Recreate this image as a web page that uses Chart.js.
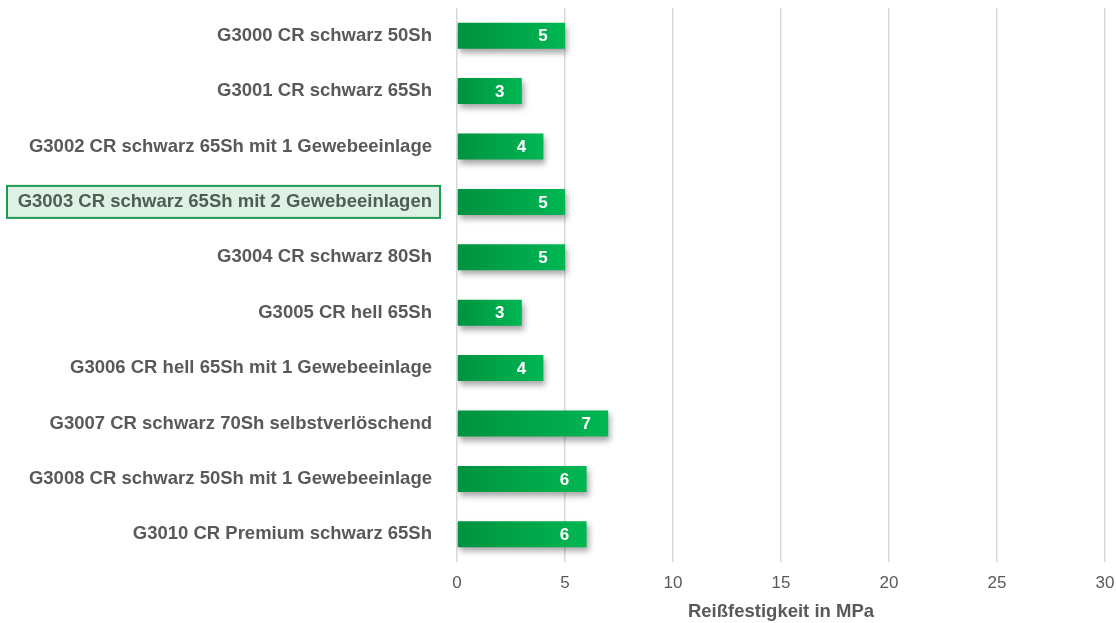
<!DOCTYPE html>
<html>
<head>
<meta charset="utf-8">
<script src="https://cdn.jsdelivr.net/npm/chart.js@4.4.1/dist/chart.umd.min.js"></script>
<style>
  html, body { margin: 0; padding: 0; background: #fff; }
  #wrap { width: 1116px; height: 623px; }
</style>
</head>
<body>
<div id="wrap"><canvas id="tearChart"></canvas></div>
<script>
// Daten
const categories = [
    'G3000 CR schwarz 50Sh',
    'G3001 CR schwarz 65Sh',
    'G3002 CR schwarz 65Sh mit 1 Gewebeeinlage',
    'G3003 CR schwarz 65Sh mit 2 Gewebeeinlagen',
    'G3004 CR schwarz 80Sh',
    'G3005 CR hell 65Sh',
    'G3006 CR hell 65Sh mit 1 Gewebeeinlage',
    'G3007 CR schwarz 70Sh selbstverlöschend',
    'G3008 CR schwarz 50Sh mit 1 Gewebeeinlage',
    'G3010 CR Premium schwarz 65Sh'
];
const tearStrength = [5, 3, 4, 5, 5, 3, 4, 7, 6, 6];
const xTicks = [0, 5, 10, 15, 20, 25, 30];
const axisTitle = 'Reißfestigkeit in MPa';
const highlightIndex = 3;

const FONT = "'Liberation Sans', Arial, sans-serif";
const GRAY = '#595959';

// Schatten unter den Balken
const shadowPlugin = {
    id: 'barShadow',
    beforeDatasetDraw(chart) {
        const c = chart.ctx;
        c.save();
        c.shadowColor = 'rgba(0,0,0,0.35)';
        c.shadowBlur = 6;
        c.shadowOffsetX = 2;
        c.shadowOffsetY = 4;
    },
    afterDatasetDraw(chart) {
        chart.ctx.restore();
    }
};

// Werte in den Balken
const valueLabels = {
    id: 'valueLabels',
    afterDatasetsDraw(chart) {
        const c = chart.ctx;
        const meta = chart.getDatasetMeta(0);
        c.save();
        c.fillStyle = '#ffffff';
        c.font = 'bold 17px ' + FONT;
        c.textAlign = 'center';
        c.textBaseline = 'middle';
        meta.data.forEach((bar, i) => {
            c.fillText(String(tearStrength[i]), bar.x - 22, bar.y + 1);
        });
        c.restore();
    }
};

// Markierte Kategorie
const highlightBox = {
    id: 'highlightBox',
    beforeDraw(chart) {
        const y = chart.scales.y.getPixelForValue(highlightIndex);
        const c = chart.ctx;
        c.save();
        c.fillStyle = '#ddf2e5';
        c.fillRect(7, y - 16, 433, 32);
        c.strokeStyle = '#1f9a50';
        c.lineWidth = 2;
        c.strokeRect(7, y - 16, 433, 32);
        c.restore();
    }
};

const ctx = document.getElementById('tearChart').getContext('2d');
const tearChart = new Chart(ctx, {
    type: 'bar',
    data: {
        labels: categories,
        datasets: [{
            data: tearStrength,
            backgroundColor(context) {
                const chart = context.chart;
                const x = chart.scales.x;
                if (!x || !chart.chartArea) return '#00a84a';
                const x0 = x.getPixelForValue(0);
                const x1 = x.getPixelForValue(context.raw || 1);
                const g = chart.ctx.createLinearGradient(x0, 0, x1, 0);
                g.addColorStop(0, '#00923f');
                g.addColorStop(1, '#00b753');
                return g;
            },
            borderWidth: 0,
            barPercentage: 0.47,
            categoryPercentage: 1
        }]
    },
    options: {
        indexAxis: 'y',
        responsive: true,
        maintainAspectRatio: false,
        animation: false,
        layout: { padding: { top: 8, right: 11, left: 0, bottom: 0 } },
        plugins: {
            legend: { display: false },
            tooltip: { enabled: false }
        },
        scales: {
            x: {
                min: 0,
                max: 30,
                afterBuildTicks(scale) {
                    scale.ticks = xTicks.map(v => ({ value: v }));
                },
                afterFit(scale) {
                    scale.height = 61;
                    scale.paddingLeft = 0;
                    scale.paddingRight = 0;
                },
                grid: { color: '#d9d9d9', lineWidth: 1.5, drawTicks: false },
                border: { display: false },
                ticks: {
                    color: GRAY,
                    padding: 11,
                    font: { family: FONT, size: 17 }
                },
                title: {
                    display: true,
                    text: axisTitle,
                    color: GRAY,
                    padding: 0,
                    font: { family: FONT, size: 18.5, weight: 'bold' }
                }
            },
            y: {
                grid: { display: false, drawTicks: false },
                border: { display: false },
                afterFit(scale) {
                    scale.width = 457;
                    scale.paddingTop = 0;
                    scale.paddingBottom = 0;
                },
                ticks: {
                    padding: 25,
                    color(c) { return c.index === highlightIndex ? '#4f5d53' : GRAY; },
                    font: { family: FONT, size: 18.5, weight: 'bold' }
                }
            }
        }
    },
    plugins: [highlightBox, shadowPlugin, valueLabels]
});
</script>
</body>
</html>
